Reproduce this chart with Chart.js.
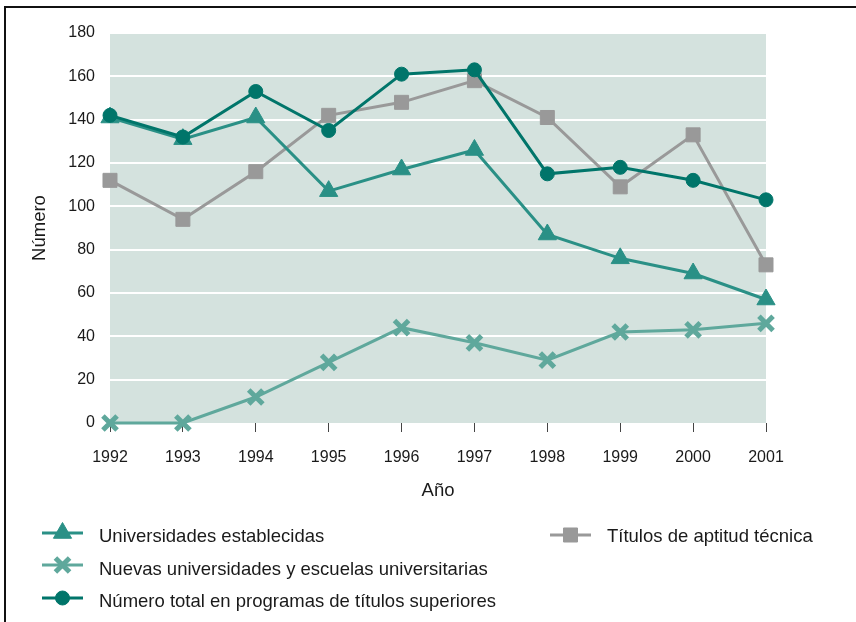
<!DOCTYPE html>
<html>
<head>
<meta charset="utf-8">
<script src="https://cdn.jsdelivr.net/npm/chart.js@4/dist/chart.umd.min.js"></script>
<style>
  html, body { margin: 0; padding: 0; background: #fff; }
  #wrap { width: 856px; height: 622px; }
</style>
</head>
<body>
<div id="wrap"><canvas id="chart" width="856" height="622"></canvas></div>
<script>
const years = ['1992', '1993', '1994', '1995', '1996', '1997', '1998', '1999', '2000', '2001'];
const universidades = [141, 131, 141, 107, 117, 126, 87, 76, 69, 57];
const nuevas = [0, 0, 12, 28, 44, 37, 29, 42, 43, 46];
const total = [142, 132, 153, 135, 161, 163, 115, 118, 112, 103];
const titulos = [112, 94, 116, 142, 148, 158, 141, 109, 133, 73];
const yTicks = [0, 20, 40, 60, 80, 100, 120, 140, 160, 180];

const FONT = '"Liberation Sans", Arial, sans-serif';

// fondo gris verdoso del area de trazado
const plotBg = {
  id: 'plotBg',
  beforeDraw(chart) {
    const { ctx, chartArea: a } = chart;
    ctx.save();
    ctx.fillStyle = '#d4e2de';
    ctx.fillRect(a.left, a.top, a.right - a.left, a.bottom - a.top);
    ctx.restore();
  }
};

// leyenda propia (dos columnas) y marco
const legendBox = {
  id: 'legendBox',
  afterDraw(chart) {
    const ctx = chart.ctx;
    const slots = [
      { x: 42, y: 533, ty: 537 },
      { x: 42, y: 565, ty: 570 },
      { x: 42, y: 598, ty: 602 },
      { x: 550, y: 535, ty: 537 }
    ];
    ctx.save();
    chart.data.datasets.forEach((ds, i) => {
      const s = slots[i];
      ctx.strokeStyle = ds.borderColor;
      ctx.fillStyle = ds.borderColor;
      ctx.lineWidth = ds.borderWidth;
      ctx.beginPath();
      ctx.moveTo(s.x, s.y);
      ctx.lineTo(s.x + 41, s.y);
      ctx.stroke();
      ctx.lineWidth = ds.pointBorderWidth;
      Chart.helpers.drawPoint(ctx, {
        pointStyle: ds.pointStyle,
        radius: ds.pointRadius,
        borderWidth: ds.pointBorderWidth,
        rotation: 0
      }, s.x + 20.5, s.y);
      ctx.fillStyle = '#1a1a1a';
      ctx.font = '18.5px ' + FONT;
      ctx.textBaseline = 'middle';
      ctx.fillText(ds.label, s.x + 57, s.ty);
    });
    ctx.strokeStyle = '#111';
    ctx.lineWidth = 2;
    ctx.beginPath();
    ctx.moveTo(5, 622);
    ctx.lineTo(5, 7);
    ctx.lineTo(856, 7);
    ctx.stroke();
    ctx.restore();
  }
};

function series(label, data, color, style, radius, order, bw) {
  return {
    label, data, order,
    clip: false,
    borderColor: color,
    backgroundColor: color,
    pointBackgroundColor: color,
    pointBorderColor: color,
    borderWidth: 3,
    pointStyle: style,
    pointRadius: radius,
    pointBorderWidth: bw,
    tension: 0
  };
}

new Chart(document.getElementById('chart'), {
  type: 'line',
  data: {
    labels: years,
    datasets: [
      series('Universidades establecidas', universidades, '#2a9086', 'triangle', 10.5, 1, 1),
      series('Nuevas universidades y escuelas universitarias', nuevas, '#5fa89c', 'crossRot', 10, 3, 5),
      series('Número total en programas de títulos superiores', total, '#00756a', 'circle', 7, 0, 1),
      series('Títulos de aptitud técnica', titulos, '#999999', 'rect', 9.9, 2, 1)
    ]
  },
  options: {
    responsive: false,
    animation: false,
    layout: { padding: { left: 0, right: 90, top: 33, bottom: 0 } },
    plugins: {
      legend: { display: false },
      tooltip: { enabled: false }
    },
    scales: {
      x: {
        offset: false,
        border: { display: false },
        grid: { drawOnChartArea: false, drawTicks: true, tickLength: 9, color: '#444', lineWidth: 1 },
        ticks: { color: '#1a1a1a', font: { family: FONT, size: 16 }, padding: 16, maxRotation: 0 },
        title: { display: true, text: 'Año', color: '#1a1a1a', font: { family: FONT, size: 18.5 }, padding: { top: 0, bottom: 120 } },
        afterFit(scale) { scale.height = 199; }
      },
      y: {
        min: 0,
        max: 180,
        border: { display: false },
        afterBuildTicks(scale) { scale.ticks = yTicks.map(v => ({ value: v })); },
        grid: {
          drawTicks: false,
          lineWidth: 2,
          color: c => (c.tick && c.tick.value === 0) ? 'rgba(0,0,0,0)' : '#ffffff'
        },
        ticks: { color: '#1a1a1a', font: { family: FONT, size: 16 }, padding: 15 },
        title: { display: true, text: 'Número', color: '#1a1a1a', font: { family: FONT, size: 18.5 }, padding: { top: 29, bottom: 0 } },
        afterFit(scale) { scale.width = 110; }
      }
    }
  },
  plugins: [plotBg, legendBox]
});
</script>
</body>
</html>
